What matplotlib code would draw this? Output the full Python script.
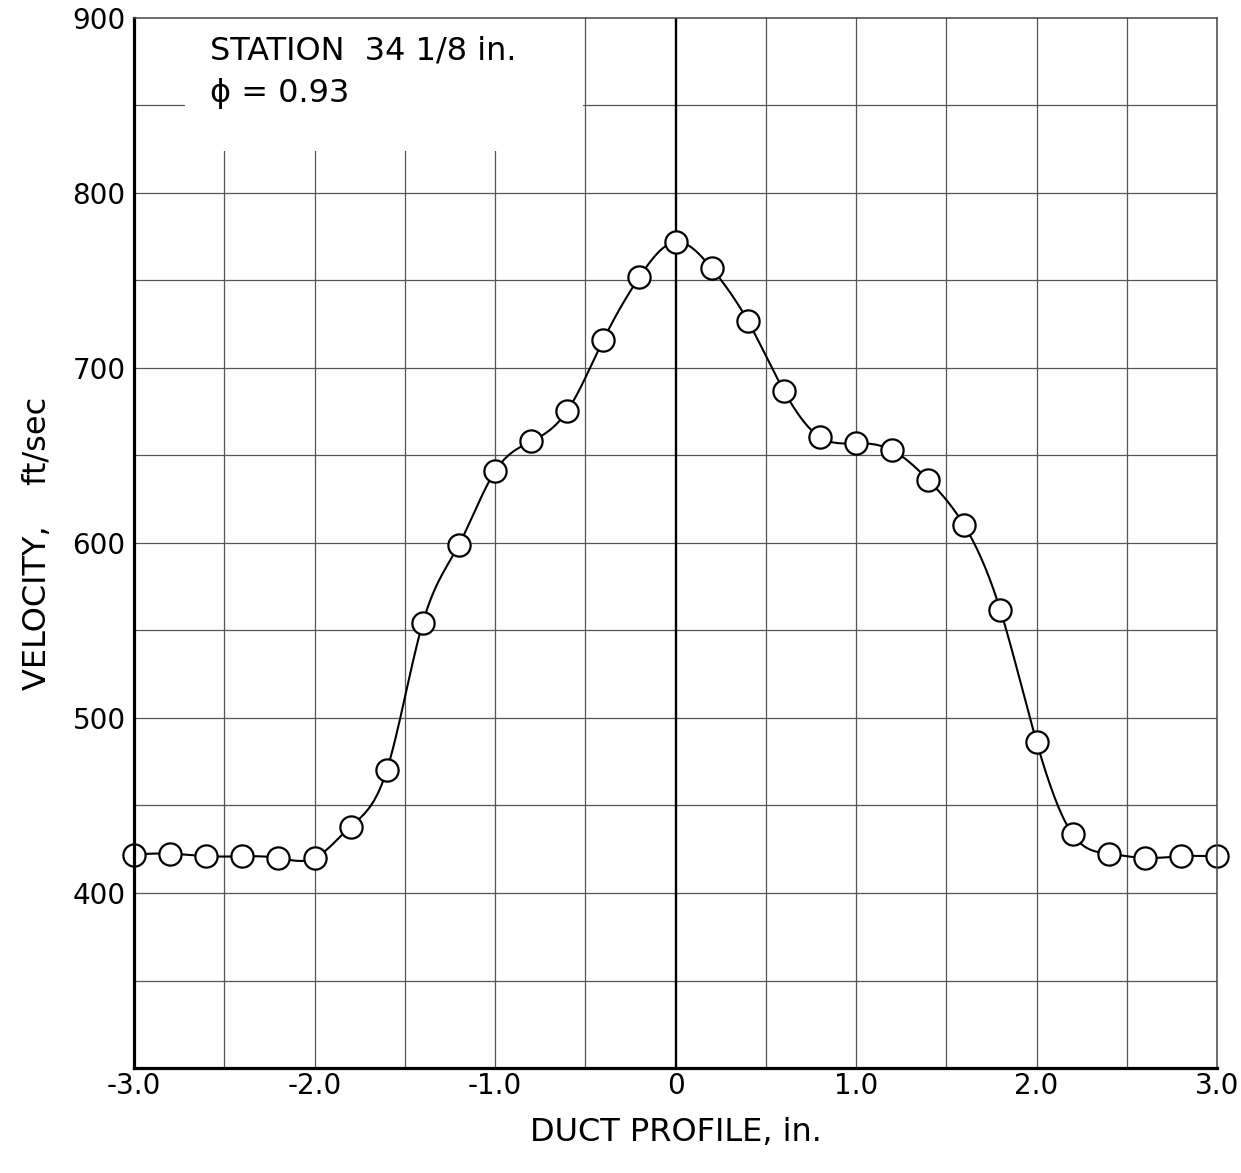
import numpy as np
import matplotlib
matplotlib.use("Agg")
import matplotlib.pyplot as plt
from matplotlib.patches import Rectangle

# ---- data ----
duct_x = [-3.0, -2.8, -2.6, -2.4, -2.2, -2.0, -1.8, -1.6, -1.4, -1.2, -1.0,
          -0.8, -0.6, -0.4, -0.2, 0.0, 0.2, 0.4, 0.6, 0.8, 1.0, 1.2, 1.4,
          1.6, 1.8, 2.0, 2.2, 2.4, 2.6, 2.8, 3.0]
velocity = [422, 422.5, 421, 421, 420, 420, 438, 470, 554.5, 599, 641,
            658, 675.5, 716, 752, 772, 757, 727, 687, 660.5, 657, 653, 636,
            610, 561.5, 486.5, 433.5, 422.5, 420, 421, 421]
x_tick_vals = [-3.0, -2.0, -1.0, 0.0, 1.0, 2.0, 3.0]
x_tick_labels = ["-3.0", "-2.0", "-1.0", "0", "1.0", "2.0", "3.0"]
y_tick_vals = [300, 400, 500, 600, 700, 800, 900]
y_tick_labels = ["", "400", "500", "600", "700", "800", "900"]
title_line1 = "STATION  34 1/8 in."
title_line2 = "ϕ = 0.93"


def natural_spline(x, y, xn):
    x = np.asarray(x, float); y = np.asarray(y, float)
    n = len(x); h = np.diff(x)
    A = np.zeros((n, n)); b = np.zeros(n)
    A[0, 0] = 1; A[-1, -1] = 1
    for i in range(1, n - 1):
        A[i, i - 1] = h[i - 1]; A[i, i] = 2 * (h[i - 1] + h[i]); A[i, i + 1] = h[i]
        b[i] = 6 * ((y[i + 1] - y[i]) / h[i] - (y[i] - y[i - 1]) / h[i - 1])
    M = np.linalg.solve(A, b)
    idx = np.clip(np.searchsorted(x, xn) - 1, 0, n - 2)
    xi, xi1, hi = x[idx], x[idx + 1], h[idx]
    return (M[idx] * (xi1 - xn)**3 / (6 * hi) + M[idx + 1] * (xn - xi)**3 / (6 * hi)
            + (y[idx] / hi - M[idx] * hi / 6) * (xi1 - xn)
            + (y[idx + 1] / hi - M[idx + 1] * hi / 6) * (xn - xi))


fig = plt.figure(figsize=(12.41, 11.73), dpi=100)
ax = fig.add_axes([0.108, 0.0895, 0.8727, 0.8952])
ax.set_xlim(-3.0, 3.0)
ax.set_ylim(300, 900)

grid_kw = dict(color="#555555", lw=0.9, zorder=1)
for gx in np.arange(-2.5, 3.0, 0.5):
    if abs(gx) > 1e-9:
        ax.axvline(gx, **grid_kw)
for gy in np.arange(350, 900, 50):
    ax.axhline(gy, **grid_kw)
ax.axvline(0.0, color="black", lw=1.7, zorder=1.5)

# white label area
ax.add_patch(Rectangle((-2.72, 824), 2.21, 80, facecolor="white",
                       edgecolor="none", zorder=2))

xs = np.linspace(-3.0, 3.0, 800)
ax.plot(xs, natural_spline(duct_x, velocity, xs), color="black", lw=1.5, zorder=3)
ax.plot(duct_x, velocity, "o", ms=16, mfc="white", mec="black", mew=1.6,
        zorder=4, clip_on=False)

font = "DejaVu Sans"
ax.text(-2.58, 881, title_line1, fontsize=23, family=font, va="center",
        ha="left", zorder=5)
ax.text(-2.58, 857, title_line2, fontsize=23, family=font, va="center",
        ha="left", zorder=5)

ax.set_xticks(x_tick_vals)
ax.set_xticklabels(x_tick_labels, fontsize=20, family=font)
ax.set_yticks(y_tick_vals)
ax.set_yticklabels(y_tick_labels, fontsize=20, family=font)
ax.tick_params(axis="x", length=0, pad=3)
ax.tick_params(axis="y", length=0, pad=6)

ax.set_xlabel("DUCT PROFILE, in.", fontsize=23, family=font, labelpad=12)
ax.set_ylabel("VELOCITY,    ft/sec", fontsize=23, family=font, labelpad=14)

for s in ("left", "bottom"):
    ax.spines[s].set_linewidth(2.3)
    ax.spines[s].set_color("black")
for s in ("top", "right"):
    ax.spines[s].set_linewidth(1.1)
    ax.spines[s].set_color("#444444")
for sp in ax.spines.values():
    sp.set_zorder(6)

fig.savefig("out.png", dpi=100)
